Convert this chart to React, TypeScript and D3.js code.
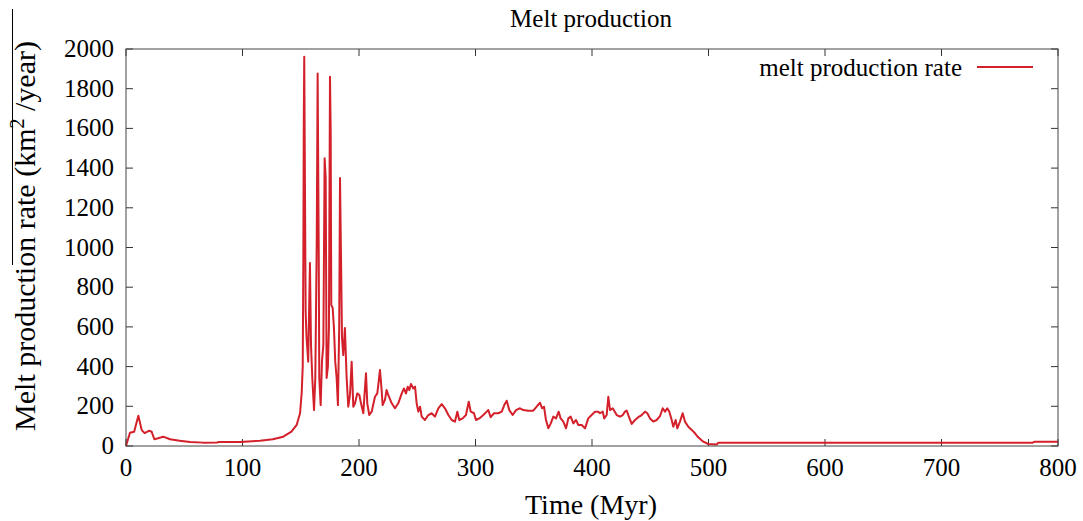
import React from "react";
import * as d3 from "d3";

const timeMyr = [
  0, 3.4, 7, 10.6, 13.5, 16, 20, 22, 24.3, 27.5, 32, 37.8, 46, 55, 66, 78, 80, 98, 115, 126, 135, 142, 146.5, 149.4, 150.8,
  151.7, 152.2, 152.6, 153.0, 154.2, 155.0, 156.4, 157.9, 158.8, 159.9, 161.4, 162.5, 163.7, 164.5, 165.4, 165.9, 167.1,
  168.2, 169.4, 170.5, 171.4, 172.2, 173.3, 174.2, 175.1, 175.7, 176.2, 177.4, 178.5, 179.6, 180.8, 181.9, 183.0, 183.7,
  184.5, 185.4, 186.5, 187.9, 189.4, 190.8, 192.3, 193.7, 195.1, 196.6, 198.5, 200.3, 201.7, 203.7, 205.2, 206.0, 207.1,
  208.8, 210.9, 213.7, 215.7, 216.9, 218.0, 219.2, 220.3, 222.3, 223.7, 225.1, 228.1, 230.9, 233.7, 236.7, 238.6, 240.3,
  241.8, 243.2, 244.6, 246.6, 248.1, 249.5, 250.9, 252.4, 253.8, 256.6, 259.5, 262.4, 265.2, 268.1, 271.0, 273.8, 276.7,
  279.6, 282.4, 284.4, 286.1, 289.0, 291.8, 294.2, 295.9, 298.7, 300.4, 303.3, 306.7, 309.6, 311.0, 313.0, 315.9, 319.6,
  322.5, 324.7, 326.8, 329.0, 331.9, 334.8, 338.2, 341.0, 345.3, 349.6, 352.5, 355.4, 357.1, 358.8, 360.5, 362.5, 364.6,
  366.8, 369.1, 371.4, 373.1, 375.4, 377.7, 379.7, 381.7, 384.0, 386.3, 388.2, 391.2, 394.0, 396.8, 399.7, 402.6, 405.4,
  406.9, 409.2, 410.5, 412.6, 414.0, 415.5, 417.8, 421.2, 424.0, 426.4, 428.3, 429.8, 431.8, 434.1, 436.9, 439.7, 442.7,
  445.5, 447.5, 449.8, 452.6, 455.5, 458.4, 460.7, 462.7, 464.6, 466.4, 468.4, 469.8, 471.8, 473.2, 475.5, 477.8, 479.8,
  482.7, 485.6, 488.4, 491.2, 495.5, 499.8, 507.0, 508.4, 600, 700, 778, 780, 800,
];

const meltRate = [
  0, 67, 72, 152, 80, 65, 77, 72, 34, 39, 47, 34, 27, 20, 17, 18, 20, 20, 27, 34, 47, 72, 106, 165, 267,
  400, 912, 1627, 1961, 677, 544, 425, 922, 509, 343, 181, 343, 1012, 1877, 1012, 343, 206,
  425, 509, 1449, 1350, 343, 400, 600, 1860, 1583, 710, 695, 594, 425, 343, 206, 594, 1350,
  979, 544, 458, 594, 343, 198, 260, 425, 198, 215, 265, 257, 215, 165, 299, 366, 215,
  156, 173, 248, 265, 324, 383, 299, 206, 232, 282, 257, 215, 190, 215, 265, 290, 265,
  299, 282, 312, 290, 299, 215, 173, 198, 148, 131, 156, 165, 148, 190, 211, 190, 156,
  131, 123, 173, 131, 139, 156, 223, 173, 165, 131, 139, 156, 173, 181, 145, 165, 165,
  173, 206, 228, 181, 156, 181, 190, 181, 178, 178, 198, 218, 190, 198, 131, 89, 114,
  148, 139, 173, 139, 123, 89, 139, 148, 114, 131, 106, 106, 89, 139, 156, 173, 173,
  165, 173, 139, 156, 248, 181, 190, 156, 148, 156, 173, 178, 145, 111, 131, 145, 156,
  173, 165, 139, 123, 131, 151, 190, 173, 190, 173, 131, 97, 131, 89, 123, 165, 123,
  97, 81, 64, 44, 22, 10, 8, 16, 16, 16, 16, 22, 22,
];

const xTicks = [0, 100, 200, 300, 400, 500, 600, 700, 800];
const yTicks = [0, 200, 400, 600, 800, 1000, 1200, 1400, 1600, 1800, 2000];

const W = 1083;
const H = 521;
const left = 126;
const right = 1058;
const top = 49;
const bottom = 446;
const font = "'Liberation Serif', 'Times New Roman', serif";
const red = "#d3202a";

export default function App() {
  const x = d3.scaleLinear().domain([0, 800]).range([left, right]);
  const y = d3.scaleLinear().domain([0, 2000]).range([bottom, top]);
  const data = timeMyr.map((t, i) => [t, meltRate[i]] as [number, number]);
  const line = d3
    .line<[number, number]>()
    .x((d) => x(d[0]))
    .y((d) => y(d[1]));
  const tl = 7;
  return (
    <svg
      width={W}
      height={H}
      style={{ position: "absolute", left: 0, top: 0, background: "#fff" }}
      fontFamily={font}
    >
      <rect x={0} y={0} width={W} height={H} fill="#fff" />
      <text x={591} y={27} fontSize={25} textAnchor="middle" fill="#000">
        Melt production
      </text>
      {xTicks.map((t) => (
        <g key={"xt" + t}>
          <line x1={x(t)} x2={x(t)} y1={bottom} y2={bottom - tl} stroke="#333" />
          <line x1={x(t)} x2={x(t)} y1={top} y2={top + tl} stroke="#333" />
          <text x={x(t)} y={476} fontSize={25} textAnchor="middle" fill="#000">
            {t}
          </text>
        </g>
      ))}
      {yTicks.map((t) => (
        <g key={"yt" + t}>
          <line x1={left} x2={left + tl} y1={y(t)} y2={y(t)} stroke="#333" />
          <line x1={right} x2={right - tl} y1={y(t)} y2={y(t)} stroke="#333" />
          <text x={114} y={y(t) + 8} fontSize={25} textAnchor="end" fill="#000">
            {t}
          </text>
        </g>
      ))}
      <path d={line(data) || ""} fill="none" stroke={red} strokeWidth={2} strokeLinejoin="round" />
      <rect x={left} y={top} width={right - left} height={bottom - top} fill="none" stroke="#444" strokeWidth={1} />
      <text x={962} y={76} fontSize={25} textAnchor="end" fill="#000">
        melt production rate
      </text>
      <line x1={977} x2={1033} y1={67} y2={67} stroke={red} strokeWidth={2} />
      <text x={591} y={514} fontSize={28} textAnchor="middle" fill="#000">
        Time (Myr)
      </text>
      <text
        transform={`translate(35,236) rotate(-90)`}
        fontSize={30}
        textAnchor="middle"
        fill="#000"
      >
        Melt production rate (km
        <tspan dy={-11} fontSize={20}>2</tspan>
        <tspan dy={11}> /year)</tspan>
      </text>
      <line x1={12.5} x2={12.5} y1={9} y2={265} stroke="#000" strokeWidth={1} />
    </svg>
  );
}
